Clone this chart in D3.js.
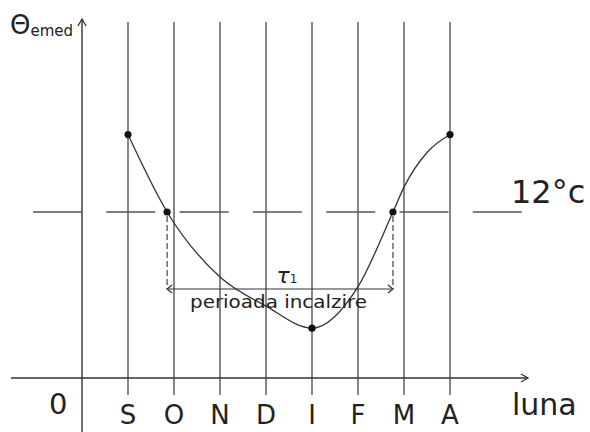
<!DOCTYPE html>
<html>
<head>
<meta charset="utf-8">
<script src="https://cdn.jsdelivr.net/npm/d3@7"></script>
<style>
  body { margin: 0; background: #fff; }
  text { font-family: "DejaVu Sans", Verdana, sans-serif; fill: #222; }
</style>
</head>
<body>
<div id="chart"></div>
<script>
// months on the x axis (index 1..8)
const months = ["S", "O", "N", "D", "I", "F", "M", "A"];
const monthIdx = [1, 2, 3, 4, 5, 6, 7, 8];

// mean outdoor temperature curve (month index, °C)
const curveX = [1, 1.85, 3, 4, 5, 6, 6.76, 7, 7.5, 8];
const curveT = [17.6, 12, 7.3, 5.2, 3.6, 6.6, 12, 13.8, 16.3, 17.6];

// marked points on the curve
const dotX = [1, 1.85, 5, 6.76, 8];
const dotT = [17.6, 12, 3.6, 12, 17.6];

const threshold = 12;        // 12°c heating threshold
const heatStart = 1.85, heatEnd = 6.76;

const width = 590, height = 432;

const svg = d3.select("#chart")
  .append("svg")
  .attr("width", width)
  .attr("height", height);

const x = d3.scaleLinear().domain([0, 8]).range([82, 450]);
const y = d3.scaleLinear().domain([0, 12]).range([378, 212]);

const grid = "#555";

// vertical month lines
svg.selectAll(".mline")
  .data(monthIdx)
  .join("line")
    .attr("x1", d => x(d)).attr("x2", d => x(d))
    .attr("y1", 22).attr("y2", 395)
    .attr("stroke", grid)
    .attr("stroke-width", 1.4);

// y axis
svg.append("line")
  .attr("x1", x(0)).attr("x2", x(0))
  .attr("y1", height).attr("y2", 19)
  .attr("stroke", "#333").attr("stroke-width", 1.4);
svg.append("path")
  .attr("d", `M${x(0) - 4},${26} L${x(0)},${19} L${x(0) + 4},${26}`)
  .attr("fill", "none").attr("stroke", "#333").attr("stroke-width", 1.3);

// x axis
svg.append("line")
  .attr("x1", 11).attr("x2", 528)
  .attr("y1", y(0)).attr("y2", y(0))
  .attr("stroke", "#333").attr("stroke-width", 1.4);
svg.append("path")
  .attr("d", `M${521},${y(0) - 4} L${528},${y(0)} L${521},${y(0) + 4}`)
  .attr("fill", "none").attr("stroke", "#333").attr("stroke-width", 1.3);

// 12°c dashed line
svg.append("line")
  .attr("x1", 33).attr("x2", 522)
  .attr("y1", y(threshold)).attr("y2", y(threshold))
  .attr("stroke", grid).attr("stroke-width", 1.4)
  .attr("stroke-dasharray", "49,24.3");

svg.append("text")
  .attr("x", 511).attr("y", 203)
  .attr("font-size", 32)
  .text("12°c");

// temperature curve
const pts = curveX.map((d, i) => [x(d), y(curveT[i])]);
svg.append("path")
  .datum(pts)
  .attr("d", d3.line().curve(d3.curveMonotoneX))
  .attr("fill", "none")
  .attr("stroke", "#333")
  .attr("stroke-width", 1.3);

svg.selectAll(".dot")
  .data(dotX)
  .join("circle")
    .attr("cx", d => x(d))
    .attr("cy", (d, i) => y(dotT[i]))
    .attr("r", 3.6)
    .attr("fill", "#111");

// dashed drops and double arrow for the heating period
const arrowY = 289;
[heatStart, heatEnd].forEach(d => {
  svg.append("line")
    .attr("x1", x(d)).attr("x2", x(d))
    .attr("y1", y(threshold) + 4).attr("y2", arrowY)
    .attr("stroke", "#333").attr("stroke-width", 1.1)
    .attr("stroke-dasharray", "6,3");
});
svg.append("line")
  .attr("x1", x(heatStart)).attr("x2", x(heatEnd))
  .attr("y1", arrowY).attr("y2", arrowY)
  .attr("stroke", "#333").attr("stroke-width", 1.2);
svg.append("path")
  .attr("d", `M${x(heatStart) + 5},${arrowY - 4} L${x(heatStart)},${arrowY} L${x(heatStart) + 5},${arrowY + 4}`)
  .attr("fill", "none").attr("stroke", "#333").attr("stroke-width", 1.2);
svg.append("path")
  .attr("d", `M${x(heatEnd) - 5},${arrowY - 4} L${x(heatEnd)},${arrowY} L${x(heatEnd) - 5},${arrowY + 4}`)
  .attr("fill", "none").attr("stroke", "#333").attr("stroke-width", 1.2);

const tau = svg.append("text")
  .attr("x", 287).attr("y", 283)
  .attr("text-anchor", "middle")
  .attr("font-size", 22)
  .attr("font-style", "italic");
tau.append("tspan").text("τ");
tau.append("tspan").attr("font-size", 12).attr("font-style", "normal").text("1");

svg.append("text")
  .attr("x", 190).attr("y", 308)
  .attr("font-size", 18)
  .attr("textLength", 177)
  .attr("lengthAdjust", "spacingAndGlyphs")
  .text("perioada incalzire");

// month labels
svg.selectAll(".mlabel")
  .data(months)
  .join("text")
    .attr("x", (d, i) => x(monthIdx[i]))
    .attr("y", 424)
    .attr("text-anchor", "middle")
    .attr("font-size", 26)
    .text(d => d);

svg.append("text")
  .attr("x", 49).attr("y", 414)
  .attr("font-size", 29)
  .text("0");

svg.append("text")
  .attr("x", 512).attr("y", 415)
  .attr("font-size", 30)
  .text("luna");

// axis title
const title = svg.append("text").attr("x", 10).attr("y", 34);
title.append("tspan").attr("font-size", 26).text("Θ");
title.append("tspan").attr("font-size", 15).attr("dy", 2).text("emed");
</script>
</body>
</html>
